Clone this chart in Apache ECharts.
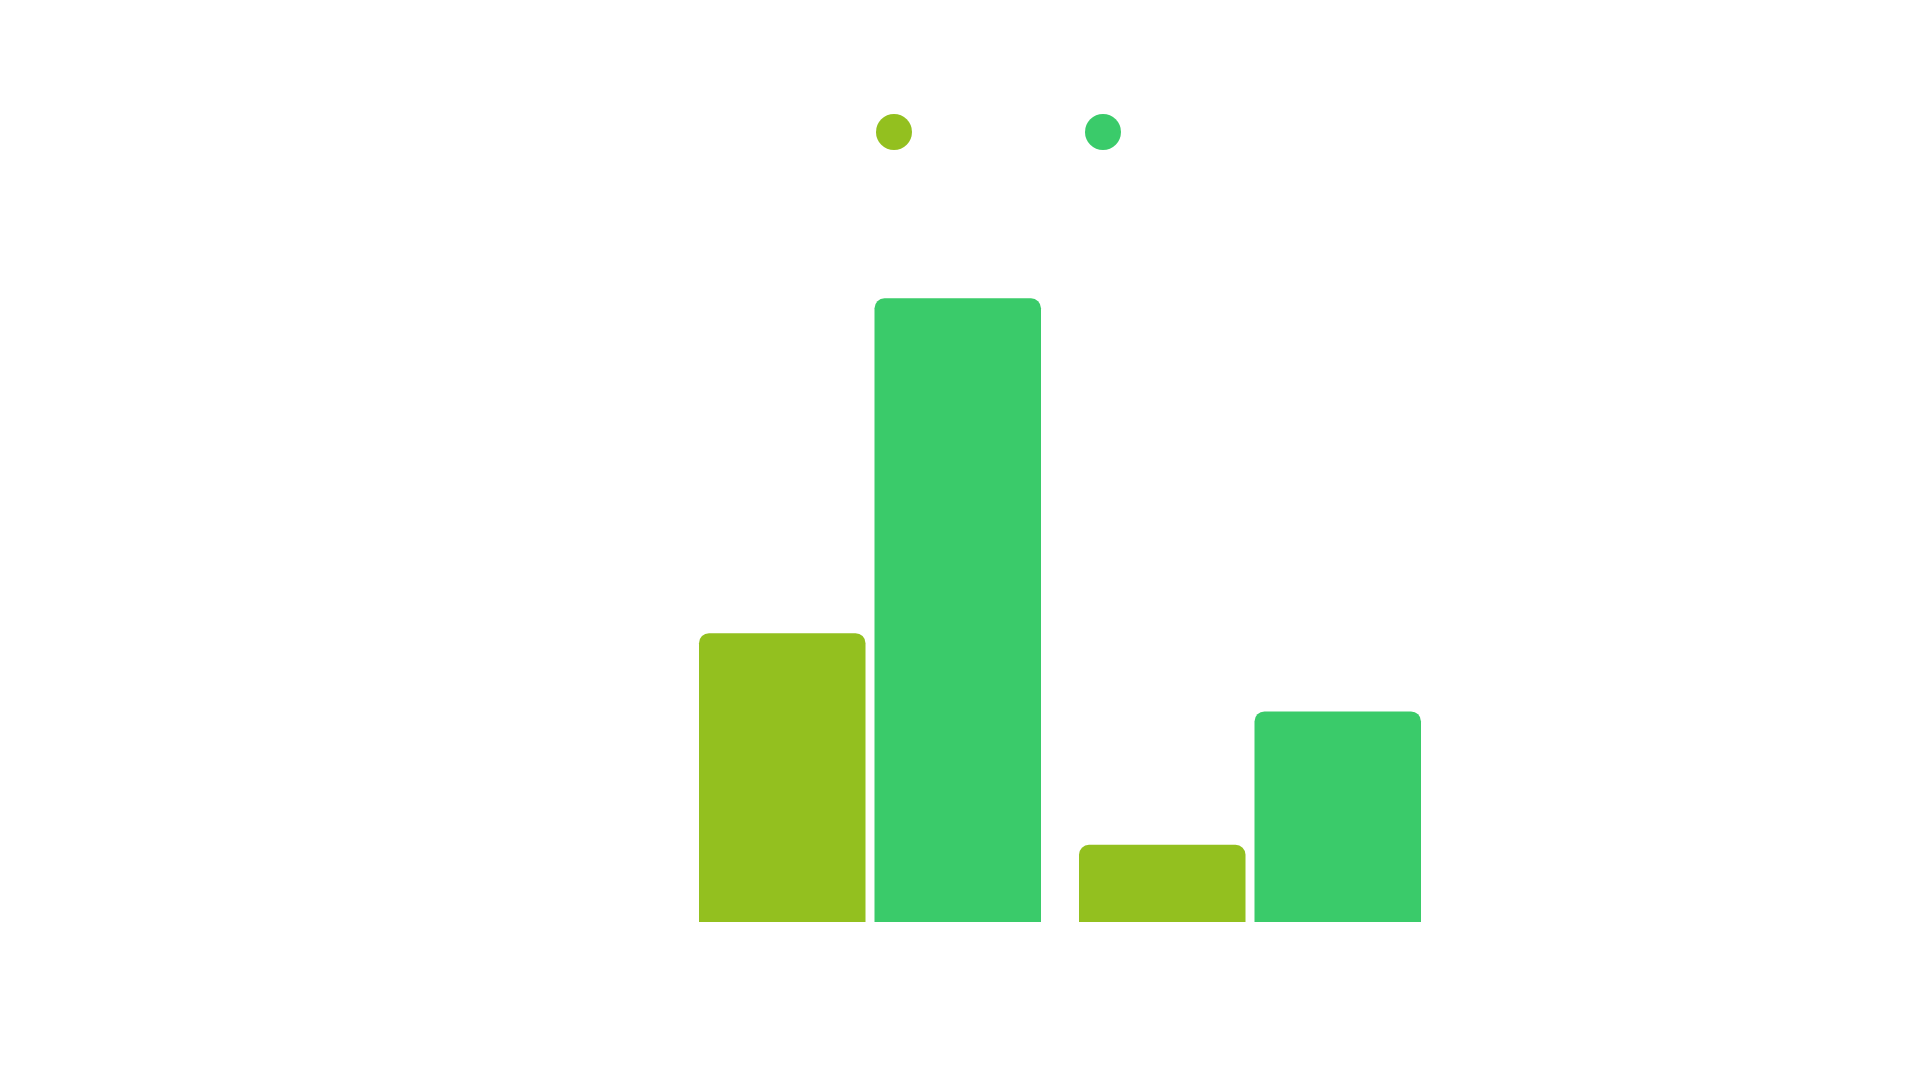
<!DOCTYPE html>
<html>
<head>
<meta charset="utf-8">
<script src="https://cdn.jsdelivr.net/npm/echarts@6/dist/echarts.min.js"></script>
<style>
  html, body { margin: 0; padding: 0; background: #ffffff; }
  #chart { width: 1920px; height: 1080px; }
</style>
</head>
<body>
<div id="chart"></div>
<script>
// data (axis text is white on white, so scale is estimated)
const categories = ["Q1", "Q2"];
const seriesNames = ["Series A", "Series B"];
const seriesA = [288, 77];
const seriesB = [622, 210];
const color = ["#93C01F", "#3ACB6A"];

const myChart = echarts.init(document.getElementById("chart"));
const option = {
  backgroundColor: "#ffffff",
  color: color,
  textStyle: { color: "#ffffff" },
  legend: [
    {
      data: [seriesNames[0]],
      left: 871,
      top: 109,
      icon: "circle",
      itemWidth: 36,
      itemHeight: 36,
      textStyle: { color: "#ffffff", fontSize: 20 },
    },
    {
      data: [seriesNames[1]],
      left: 1080,
      top: 109,
      icon: "circle",
      itemWidth: 36,
      itemHeight: 36,
      textStyle: { color: "#ffffff", fontSize: 20 },
    },
  ],
  grid: {
    left: 680,
    right: 480,
    top: 220,
    bottom: 158,
    containLabel: false,
  },
  xAxis: {
    type: "category",
    data: categories,
    axisLine: { show: false },
    axisTick: { show: false },
    axisLabel: { color: "#ffffff", fontSize: 20 },
    splitLine: { show: false },
  },
  yAxis: {
    type: "value",
    min: 0,
    max: 700,
    interval: 100,
    axisLine: { show: false },
    axisTick: { show: false },
    axisLabel: { color: "#ffffff", fontSize: 20 },
    splitLine: { show: false },
  },
  series: [
    {
      name: seriesNames[0],
      type: "bar",
      data: seriesA,
      barGap: "5.4%",
      barCategoryGap: "10%",
      itemStyle: { borderRadius: [10, 10, 0, 0] },
    },
    {
      name: seriesNames[1],
      type: "bar",
      data: seriesB,
      barGap: "5.4%",
      barCategoryGap: "10%",
      itemStyle: { borderRadius: [10, 10, 0, 0] },
    },
  ],
};
myChart.setOption(option, true);
</script>
</body>
</html>
